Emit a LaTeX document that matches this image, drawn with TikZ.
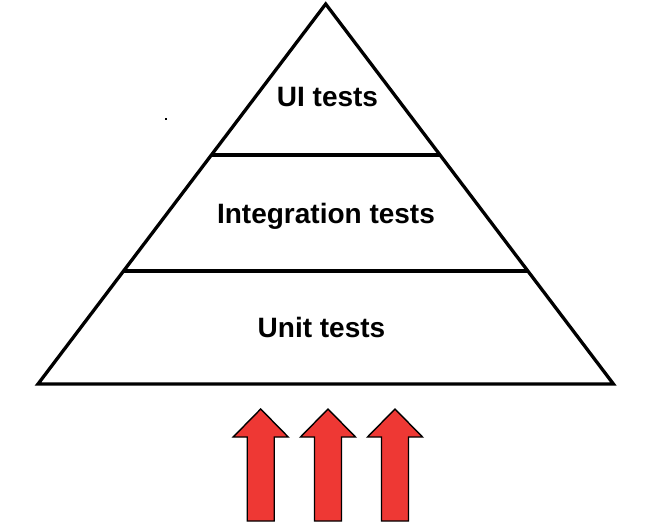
\documentclass[tikz,border=0pt]{standalone}
\usepackage{fontspec}
\setmainfont{Liberation Sans}
\definecolor{arrowred}{RGB}{238,56,52}
\tikzset{
  pyr/.style={line width=3.3pt, line join=miter},
  lbl/.style={font=\fontsize{28}{31}\selectfont\bfseries, anchor=base, inner sep=0pt},
  uparr/.style={fill=arrowred, draw=black, line width=1.4pt, line join=miter}
}
\newcommand\bigup[1]{%
  \draw[uparr] (#1,409) -- ++(27.5,28) -- ++(-14,0) -- ++(0,84) -- ++(-27,0) -- ++(0,-84) -- ++(-14,0) -- cycle;}
\begin{document}
\begin{tikzpicture}[x=1pt,y=-1pt]
\useasboundingbox (0,0) rectangle (664,526);
\coordinate (apex) at (325.7,4);
\coordinate (bl) at (38,384);
\coordinate (br) at (613.4,384);
\coordinate (l1) at (211.4,155);
\coordinate (r1) at (440,155);
\coordinate (l2) at (123.6,271);
\coordinate (r2) at (527.8,271);
\draw[pyr] (apex) -- (br) -- (bl) -- cycle;
\draw[pyr] (l1) -- (r1);
\draw[pyr] (l2) -- (r2);
\node[lbl] (ui) at (327.5,107) {UI tests};
\node[lbl] (integ) at (326,224) {Integration tests};
\node[lbl] (unit) at (321.5,338) {Unit tests};
\bigup{260.7}
\bigup{328}
\bigup{395}
\fill (165,118) rectangle (167,120);
\end{tikzpicture}
\end{document}
